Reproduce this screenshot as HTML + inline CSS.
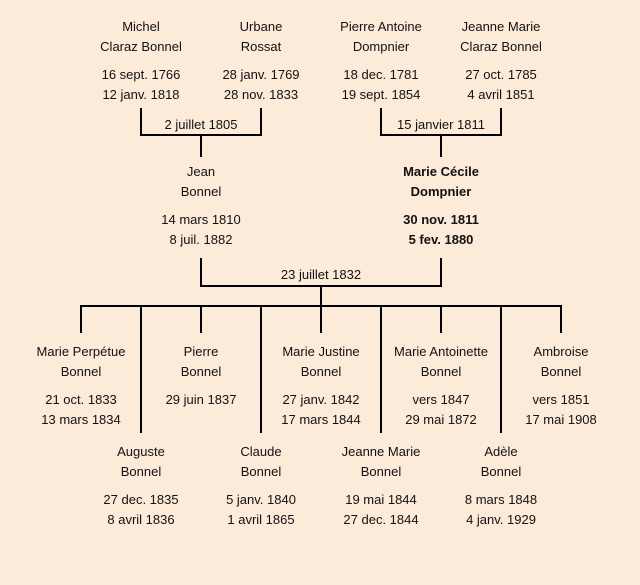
<!DOCTYPE html>
<html><head><meta charset="utf-8"><style>
body{margin:0;width:640px;height:585px;background:#fdebd9;position:relative;overflow:hidden;font-family:"Liberation Sans",sans-serif;font-size:13px;color:#111}
.t{position:absolute;width:160px;margin-left:-80px;text-align:center;line-height:16px;white-space:nowrap}
.b{font-weight:bold}
.h{position:absolute;height:2px;background:#000}
.v{position:absolute;width:2px;background:#000}
</style></head><body>
<!-- top brackets -->
<div class="v" style="left:140px;top:108px;height:28px"></div>
<div class="v" style="left:260px;top:108px;height:28px"></div>
<div class="h" style="left:140px;top:134px;width:122px"></div>
<div class="v" style="left:200px;top:134px;height:23px"></div>
<div class="v" style="left:380px;top:108px;height:28px"></div>
<div class="v" style="left:500px;top:108px;height:28px"></div>
<div class="h" style="left:380px;top:134px;width:122px"></div>
<div class="v" style="left:440px;top:134px;height:23px"></div>
<!-- middle -->
<div class="v" style="left:200px;top:258px;height:28px"></div>
<div class="v" style="left:440px;top:258px;height:28px"></div>
<div class="h" style="left:200px;top:285px;width:242px"></div>
<div class="v" style="left:320px;top:285px;height:22px"></div>
<div class="h" style="left:80px;top:305px;width:482px"></div>
<div class="v" style="left:80px;top:305px;height:28px"></div>
<div class="v" style="left:200px;top:305px;height:28px"></div>
<div class="v" style="left:320px;top:305px;height:28px"></div>
<div class="v" style="left:440px;top:305px;height:28px"></div>
<div class="v" style="left:560px;top:305px;height:28px"></div>
<div class="v" style="left:140px;top:305px;height:128px"></div>
<div class="v" style="left:260px;top:305px;height:128px"></div>
<div class="v" style="left:380px;top:305px;height:128px"></div>
<div class="v" style="left:500px;top:305px;height:128px"></div>

<div class="t" style="left:141px;top:19px">Michel</div>
<div class="t" style="left:141px;top:39px">Claraz Bonnel</div>
<div class="t" style="left:141px;top:67px">16 sept. 1766</div>
<div class="t" style="left:141px;top:87px">12 janv. 1818</div>
<div class="t" style="left:261px;top:19px">Urbane</div>
<div class="t" style="left:261px;top:39px">Rossat</div>
<div class="t" style="left:261px;top:67px">28 janv. 1769</div>
<div class="t" style="left:261px;top:87px">28 nov. 1833</div>
<div class="t" style="left:381px;top:19px">Pierre Antoine</div>
<div class="t" style="left:381px;top:39px">Dompnier</div>
<div class="t" style="left:381px;top:67px">18 dec. 1781</div>
<div class="t" style="left:381px;top:87px">19 sept. 1854</div>
<div class="t" style="left:501px;top:19px">Jeanne Marie</div>
<div class="t" style="left:501px;top:39px">Claraz Bonnel</div>
<div class="t" style="left:501px;top:67px">27 oct. 1785</div>
<div class="t" style="left:501px;top:87px">4 avril 1851</div>

<div class="t" style="left:201px;top:117px">2 juillet 1805</div>
<div class="t" style="left:441px;top:117px">15 janvier 1811</div>

<div class="t" style="left:201px;top:164px">Jean</div>
<div class="t" style="left:201px;top:184px">Bonnel</div>
<div class="t" style="left:201px;top:212px">14 mars 1810</div>
<div class="t" style="left:201px;top:232px">8 juil. 1882</div>
<div class="t b" style="left:441px;top:164px">Marie Cécile</div>
<div class="t b" style="left:441px;top:184px">Dompnier</div>
<div class="t b" style="left:441px;top:212px">30 nov. 1811</div>
<div class="t b" style="left:441px;top:232px">5 fev. 1880</div>

<div class="t" style="left:321px;top:267px">23 juillet 1832</div>

<div class="t" style="left:81px;top:344px">Marie Perpétue</div>
<div class="t" style="left:81px;top:364px">Bonnel</div>
<div class="t" style="left:81px;top:392px">21 oct. 1833</div>
<div class="t" style="left:81px;top:412px">13 mars 1834</div>
<div class="t" style="left:201px;top:344px">Pierre</div>
<div class="t" style="left:201px;top:364px">Bonnel</div>
<div class="t" style="left:201px;top:392px">29 juin 1837</div>
<div class="t" style="left:321px;top:344px">Marie Justine</div>
<div class="t" style="left:321px;top:364px">Bonnel</div>
<div class="t" style="left:321px;top:392px">27 janv. 1842</div>
<div class="t" style="left:321px;top:412px">17 mars 1844</div>
<div class="t" style="left:441px;top:344px">Marie Antoinette</div>
<div class="t" style="left:441px;top:364px">Bonnel</div>
<div class="t" style="left:441px;top:392px">vers 1847</div>
<div class="t" style="left:441px;top:412px">29 mai 1872</div>
<div class="t" style="left:561px;top:344px">Ambroise</div>
<div class="t" style="left:561px;top:364px">Bonnel</div>
<div class="t" style="left:561px;top:392px">vers 1851</div>
<div class="t" style="left:561px;top:412px">17 mai 1908</div>

<div class="t" style="left:141px;top:444px">Auguste</div>
<div class="t" style="left:141px;top:464px">Bonnel</div>
<div class="t" style="left:141px;top:492px">27 dec. 1835</div>
<div class="t" style="left:141px;top:512px">8 avril 1836</div>
<div class="t" style="left:261px;top:444px">Claude</div>
<div class="t" style="left:261px;top:464px">Bonnel</div>
<div class="t" style="left:261px;top:492px">5 janv. 1840</div>
<div class="t" style="left:261px;top:512px">1 avril 1865</div>
<div class="t" style="left:381px;top:444px">Jeanne Marie</div>
<div class="t" style="left:381px;top:464px">Bonnel</div>
<div class="t" style="left:381px;top:492px">19 mai 1844</div>
<div class="t" style="left:381px;top:512px">27 dec. 1844</div>
<div class="t" style="left:501px;top:444px">Adèle</div>
<div class="t" style="left:501px;top:464px">Bonnel</div>
<div class="t" style="left:501px;top:492px">8 mars 1848</div>
<div class="t" style="left:501px;top:512px">4 janv. 1929</div>
</body></html>
